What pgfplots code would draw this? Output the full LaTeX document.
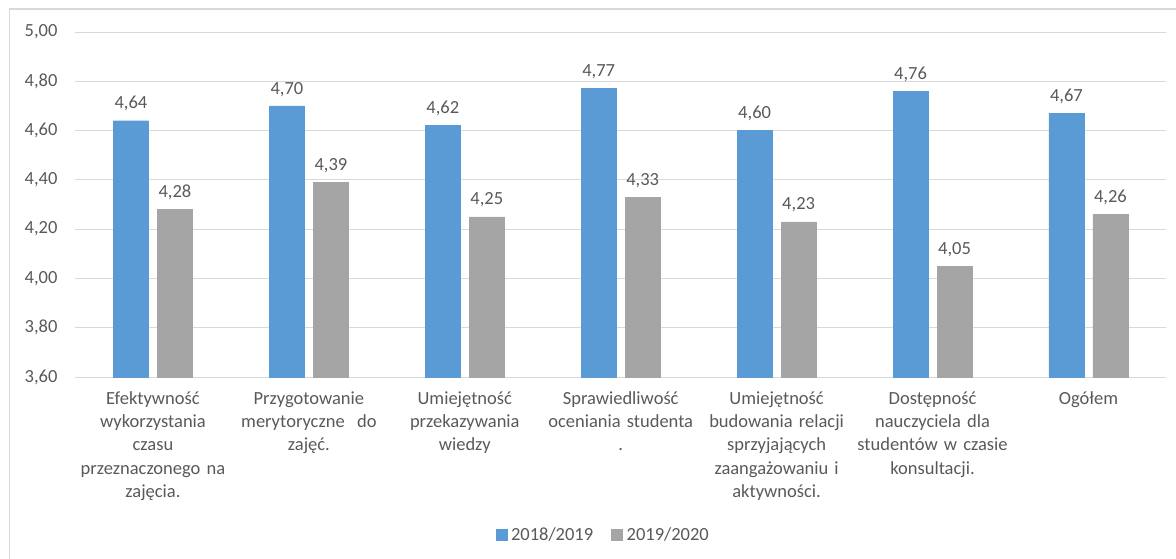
\documentclass[border=0pt]{standalone}
\usepackage{pgfplots}
\pgfplotsset{compat=1.18}
\usepackage{fontspec}
\setmainfont{Carlito}
\definecolor{cblue}{HTML}{5B9BD5}
\definecolor{cgray}{HTML}{A5A5A5}
\definecolor{ctext}{HTML}{595959}
\definecolor{cgrid}{HTML}{D9D9D9}
\begin{document}
\begin{tikzpicture}
\clip (0pt,0pt) rectangle (1176pt,-558pt);
\draw[cgrid, line width=1.5pt] (9.5pt,-580pt) -- (9.5pt,-9pt) -- (1200pt,-9pt);
\begin{axis}[
  at={(75pt,-377pt)}, anchor=south west,
  scale only axis, width=1091.5pt, height=345pt,
  ymin=3.6, ymax=5.0, ytick={3.6,3.8,4.0,4.2,4.4,4.6,4.8,5.0},
  xmin=-0.5, xmax=6.5, xtick={0,...,6},
  ybar=9pt, bar width=35pt,
  axis line style={draw=none},
  major tick length=0pt,
  ymajorgrids, grid style={cgrid, line width=1pt},
  font=\fontsize{18.5}{23.3}\selectfont,
  /pgf/number format/.cd, fixed, fixed zerofill, precision=2, use comma, assume math mode=true,
  /pgfplots/.cd,
  ticklabel style={text=ctext},
  yticklabel style={xshift=-14pt},
  xticklabel style={align=center, yshift=-11pt, text width=190pt},
  xticklabels={{Efektywność\\wykorzystania\\czasu\\przeznaczonego na\\zajęcia.},
    {Przygotowanie\\merytoryczne~ do\\zajęć.},
    {Umiejętność\\przekazywania\\wiedzy},
    {Sprawiedliwość\\oceniania studenta\\.},
    {Umiejętność\\budowania relacji\\sprzyjających\\zaangażowaniu i\\aktywności.},
    {Dostępność\\nauczyciela dla\\studentów w czasie\\konsultacji.},
    {Ogółem}},
  nodes near coords,
  every node near coord/.append style={text=ctext, yshift=6pt},
  legend style={draw=none, at={(0.484,-0.458)}, anchor=center, legend columns=2,
    /tikz/every even column/.append style={column sep=16pt}, font=\fontsize{18.5}{22}\selectfont, text=ctext},
  legend image code/.code={\fill[#1] (0pt,-5.5pt) rectangle (11pt,5.5pt);},
]
\addplot[fill=cblue, draw=cblue] coordinates {(0,4.64) (1,4.70) (2,4.62) (3,4.77) (4,4.60) (5,4.76) (6,4.67)};
\addplot[fill=cgray, draw=cgray] coordinates {(0,4.28) (1,4.39) (2,4.25) (3,4.33) (4,4.23) (5,4.05) (6,4.26)};
\legend{\hspace{2pt}2018/2019, \hspace{2pt}2019/2020}
\end{axis}
\end{tikzpicture}
\end{document}
